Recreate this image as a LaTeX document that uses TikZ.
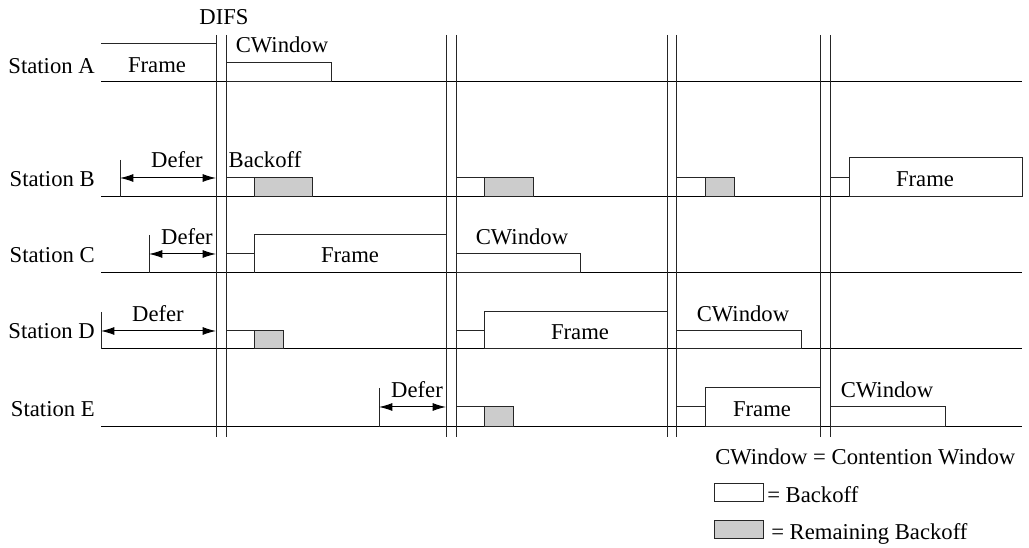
\documentclass[tikz,border=0pt]{standalone}
\usepackage{fontspec}
\setmainfont{Liberation Serif}
\newfontfamily\diagfont{Liberation Serif}
\usepackage{tikz}
\usetikzlibrary{arrows.meta,positioning}

\begin{document}
\begin{tikzpicture}[
    x=0.75pt, y=-0.75pt,
    every node/.style={font=\diagfont\fontsize{17}{19}\selectfont, inner sep=0pt},
    timeline/.style={black, line width=0.75pt},
    difs/.style={black!85, line width=0.75pt},
    slot/.style={draw=black!85, line width=0.75pt},
    remain/.style={draw=black!85, fill=black!20, line width=0.75pt},
    defer/.style={black, line width=0.75pt, {Latex[length=10pt,width=6pt]}-{Latex[length=10pt,width=6pt]}}
]
\useasboundingbox (0,0) rectangle (1029,548);

% station time lines
\foreach \name/\y/\b in {A/82/74, B/197/187, C/273/263, D/349/339, E/427/417} {
    \draw[timeline] (101,\y) -- (1022,\y);
    \node[anchor=base east] (st\name) at (95,\b) {Station \name};
}

% DIFS pairs
\foreach \xa/\xb in {216/226, 446/456, 667/676, 820/830} {
    \draw[difs] (\xa,35) -- (\xa,437);
    \draw[difs] (\xb,35) -- (\xb,437);
}
\node[anchor=base] (difs) at (224,25) {DIFS};

% Station A
\draw[slot] (101,44) -- (216,44);
\node[anchor=base] (frameA) at (157,73) {Frame};
\draw[slot] (226,63) rectangle (331,82);
\node[anchor=base] (cwA) at (282,53) {CWindow};

% Station B
\coordinate (dB1) at (120,178);
\coordinate (dB2) at (216,178);
\draw[slot] (120,160) -- (120,197);
\draw[defer] (dB1) -- (dB2);
\node[anchor=base] (deferB) at (177,168) {Defer};
\node[anchor=base] (boB) at (265,168) {Backoff};
\draw[slot] (226,178) -- (254,178);
\draw[remain] (254,178) rectangle (312,197);
\draw[slot] (456,178) -- (484,178);
\draw[remain] (484,178) rectangle (533,197);
\draw[slot] (676,178) -- (705,178);
\draw[remain] (705,178) rectangle (734,197);
\draw[slot] (830,178) -- (849,178);
\draw[slot] (849,158) rectangle (1022,197);
\node[anchor=base] (frameB) at (925,187) {Frame};

% Station C
\coordinate (dC1) at (149,254);
\coordinate (dC2) at (216,254);
\draw[slot] (149,235) -- (149,273);
\draw[defer] (dC1) -- (dC2);
\node[anchor=base] (deferC) at (187,245) {Defer};
\draw[slot] (226,254) -- (254,254);
\draw[slot] (254,273) -- (254,235) -- (446,235);
\node[anchor=base] (frameC) at (350,263) {Frame};
\draw[slot] (456,254) rectangle (580,273);
\node[anchor=base] (cwC) at (522,245) {CWindow};

% Station D
\coordinate (dD1) at (101,331);
\coordinate (dD2) at (216,331);
\draw[slot] (101,312) -- (101,349);
\draw[defer] (dD1) -- (dD2);
\node[anchor=base] (deferD) at (158,322) {Defer};
\draw[slot] (226,331) -- (254,331);
\draw[remain] (254,331) rectangle (283,349);
\draw[slot] (456,331) -- (484,331);
\draw[slot] (484,312) rectangle (667,349);
\node[anchor=base] (frameD) at (580,340) {Frame};
\draw[slot] (676,331) rectangle (801,349);
\node[anchor=base] (cwD) at (743,322) {CWindow};

% Station E
\coordinate (dE1) at (379,407);
\coordinate (dE2) at (446,407);
\draw[slot] (379,388) -- (379,427);
\draw[defer] (dE1) -- (dE2);
\node[anchor=base] (deferE) at (417,398) {Defer};
\draw[slot] (456,407) -- (484,407);
\draw[remain] (484,407) rectangle (513,427);
\draw[slot] (676,407) -- (705,407);
\draw[slot] (705,388) rectangle (820,427);
\node[anchor=base] (frameE) at (762,417) {Frame};
\draw[slot] (830,407) rectangle (945,427);
\node[anchor=base] (cwE) at (887,398) {CWindow};

% legend
\node[anchor=base west] (key) at (715,465) {CWindow = Contention Window};
\draw[slot] (714,484) rectangle (763,502);
\node[anchor=base west] (keyBo) at (767,503) {= Backoff};
\draw[remain] (714,521) rectangle (763,539);
\node[anchor=base west] (keyRem) at (771,540) {= Remaining Backoff};
\end{tikzpicture}
\end{document}
